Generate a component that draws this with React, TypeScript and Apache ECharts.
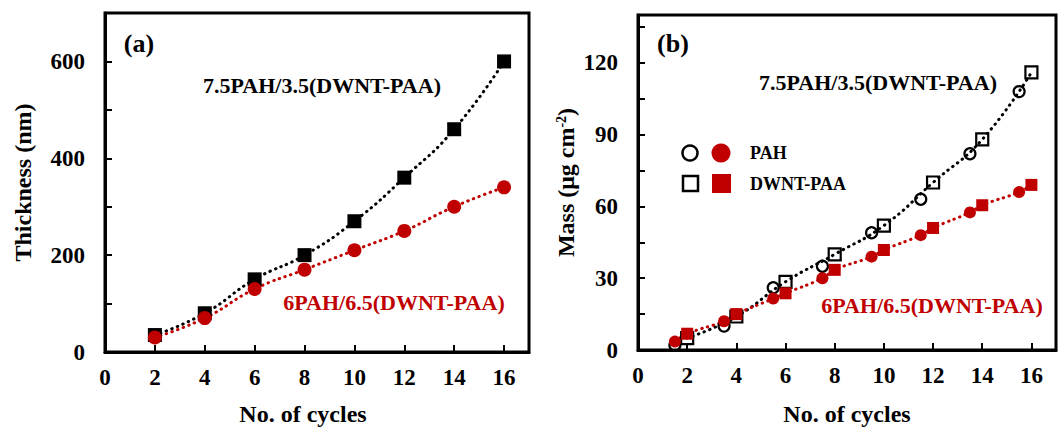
import React, { useEffect, useRef } from "react";
import * as echarts from "echarts";

// ---- Panel (a): thickness vs number of cycles ----
const cyclesA = [2, 4, 6, 8, 10, 12, 14, 16];
const thick75 = [35, 80, 150, 200, 270, 360, 460, 600];
const thick6 = [30, 70, 130, 170, 210, 250, 300, 340];
const thickTickLabels = [0, 200, 400, 600];

// ---- Panel (b): mass vs number of cycles ----
const cyclesPAH = [1.5, 3.5, 5.5, 7.5, 9.5, 11.5, 13.5, 15.5];
const cyclesPAA = [2, 4, 6, 8, 10, 12, 14, 16];
const mass75PAH = [2, 10, 26, 35, 49, 63, 82, 108];
const mass75PAA = [5, 14, 28.5, 40, 52, 70, 88, 116];
const mass6PAH = [3.5, 12, 21.5, 30, 39, 48, 57.5, 66];
const mass6PAA = [6.8, 15, 23.7, 33.5, 41.8, 51, 60.5, 69];
const massTickLabels = [0, 30, 60, 90, 120];
const xTickLabels = [0, 2, 4, 6, 8, 10, 12, 14, 16];

const label75 = "7.5PAH/3.5(DWNT-PAA)";
const label6 = "6PAH/6.5(DWNT-PAA)";
const legendNames = ["PAH", "DWNT-PAA"];

const RED = "#c00000";
const FONT = "Liberation Serif";

const pairs = (xs: number[], ys: number[]) => xs.map((x, i) => [x, ys[i]]);
const merged = (a: number[][], b: number[][]) =>
  [...a, ...b].sort((p, q) => p[0] - q[0]);

export default function App() {
  const ref = useRef<HTMLDivElement>(null);
  useEffect(() => {
    if (!ref.current) return;
    document.body.style.margin = "0";
    document.body.style.overflow = "hidden";
    const chart = echarts.init(ref.current, null, { renderer: "svg" });

    const tickLabelStyle = {
      fontFamily: FONT,
      fontWeight: "bold" as const,
      fontSize: 23,
      color: "#000",
    };
    const nameStyle = {
      fontFamily: FONT,
      fontWeight: "bold" as const,
      fontSize: 24,
      color: "#000",
    };
    const xAxisBase = (gridIndex: number, gap: number, shiftPad: number[]) => ({
      type: "value" as const,
      gridIndex,
      min: 0,
      max: 17,
      interval: 2,
      name: "No. of cycles",
      nameLocation: "middle" as const,
      nameGap: gap,
      nameTextStyle: { ...nameStyle, padding: shiftPad },
      axisLine: { show: true, lineStyle: { color: "#000", width: 3 } },
      axisTick: { show: true, inside: true, length: 7, lineStyle: { color: "#000", width: 2 } },
      axisLabel: {
        ...tickLabelStyle,
        margin: 14,
        formatter: (v: number) => (xTickLabels.includes(v) ? String(v) : ""),
      },
      splitLine: { show: false },
    });

    const dotted = (data: number[][], color: string, gi: number) => ({
      type: "line" as const,
      xAxisIndex: gi,
      yAxisIndex: gi,
      data,
      smooth: 0.5,
      symbol: "none",
      silent: true,
      z: 1,
      lineStyle: { color, width: 3, type: [0.5, 5.5] as number[], cap: "round" as const, opacity: 1 },
    });

    const txt = (text: string, x: number, y: number, size: number, fill: string) => ({
      type: "text" as const,
      x,
      y,
      style: {
        text,
        fill,
        fontFamily: FONT,
        fontWeight: "bold",
        fontSize: size,
        textAlign: "center",
        textVerticalAlign: "middle",
        align: "center",
        verticalAlign: "middle",
      },
    });

    chart.setOption({
      animation: false,
      backgroundColor: "#fff",
      grid: [
        { left: 105, top: 13, width: 424, height: 340, show: true, borderColor: "#000", borderWidth: 3, backgroundColor: "transparent" },
        { left: 638, top: 15, width: 424, height: 336, show: true, borderColor: "#000", borderWidth: 3, backgroundColor: "transparent" },
      ],
      xAxis: [xAxisBase(0, 50, [0, 28, 0, 0]), xAxisBase(1, 52, [0, 0, 0, 0])],
      yAxis: [
        {
          type: "value",
          gridIndex: 0,
          min: 0,
          max: 700,
          interval: 100,
          name: "Thickness (nm)",
          nameLocation: "middle",
          nameGap: 70,
          nameTextStyle: nameStyle,
          axisLine: { show: true, lineStyle: { color: "#000", width: 3 } },
          axisTick: { show: true, inside: true, length: 7, lineStyle: { color: "#000", width: 2 } },
          axisLabel: {
            ...tickLabelStyle,
            margin: 20,
            formatter: (v: number) => (thickTickLabels.includes(v) ? String(v) : ""),
          },
          splitLine: { show: false },
        },
        {
          type: "value",
          gridIndex: 1,
          min: 0,
          max: 140,
          interval: 15,
          name: "Mass (μg cm{sup|-2})",
          nameLocation: "middle",
          nameGap: 60,
          nameTextStyle: {
            ...nameStyle,
            rich: {
              sup: {
                fontFamily: FONT,
                fontWeight: "bold",
                fontSize: 14,
                verticalAlign: "top",
                padding: [0, 0, 10, 0],
              },
            },
          },
          axisLine: { show: true, lineStyle: { color: "#000", width: 3 } },
          axisTick: { show: true, inside: true, length: 7, lineStyle: { color: "#000", width: 2 } },
          axisLabel: {
            ...tickLabelStyle,
            margin: 20,
            formatter: (v: number) => (massTickLabels.includes(v) ? String(v) : ""),
          },
          splitLine: { show: false },
        },
      ],
      series: [
        // Panel (a)
        dotted(pairs(cyclesA, thick75), "#000", 0),
        dotted(pairs(cyclesA, thick6), RED, 0),
        {
          type: "scatter",
          name: label75,
          xAxisIndex: 0,
          yAxisIndex: 0,
          symbol: "rect",
          symbolSize: 14,
          clip: false,
          z: 3,
          itemStyle: { color: "#000", opacity: 1 },
          data: pairs(cyclesA, thick75),
        },
        {
          type: "scatter",
          name: label6,
          xAxisIndex: 0,
          yAxisIndex: 0,
          symbol: "circle",
          symbolSize: 14,
          clip: false,
          z: 4,
          itemStyle: { color: RED, opacity: 1 },
          data: pairs(cyclesA, thick6),
        },
        // Panel (b)
        dotted(pairs(cyclesPAA, mass75PAA), "#000", 1),
        dotted(merged(pairs(cyclesPAH, mass6PAH), pairs(cyclesPAA, mass6PAA)), RED, 1),
        {
          type: "scatter",
          name: "7.5 PAH",
          xAxisIndex: 1,
          yAxisIndex: 1,
          symbol: "circle",
          symbolSize: 11,
          clip: false,
          z: 3,
          itemStyle: { color: "rgba(0,0,0,0)", borderColor: "#000", borderWidth: 2.2, opacity: 1 },
          data: pairs(cyclesPAH, mass75PAH),
        },
        {
          type: "scatter",
          name: "7.5 DWNT-PAA",
          xAxisIndex: 1,
          yAxisIndex: 1,
          symbol: "rect",
          symbolSize: 12,
          clip: false,
          z: 3,
          itemStyle: { color: "rgba(0,0,0,0)", borderColor: "#000", borderWidth: 2.2, opacity: 1 },
          data: pairs(cyclesPAA, mass75PAA),
        },
        {
          type: "scatter",
          name: "6 PAH",
          xAxisIndex: 1,
          yAxisIndex: 1,
          symbol: "circle",
          symbolSize: 12,
          clip: false,
          z: 4,
          itemStyle: { color: RED, opacity: 1 },
          data: pairs(cyclesPAH, mass6PAH),
        },
        {
          type: "scatter",
          name: "6 DWNT-PAA",
          xAxisIndex: 1,
          yAxisIndex: 1,
          symbol: "rect",
          symbolSize: 12,
          clip: false,
          z: 4,
          itemStyle: { color: RED, opacity: 1 },
          data: pairs(cyclesPAA, mass6PAA),
        },
      ],
      graphic: [
        txt("(a)", 139, 43, 26, "#000"),
        txt(label75, 322, 85, 22, "#000"),
        txt(label6, 394, 302, 22, RED),
        txt("(b)", 673, 43, 26, "#000"),
        txt(label75, 878, 82, 22, "#000"),
        txt(label6, 932, 305, 22, RED),
        // custom legend
        { type: "circle", shape: { cx: 690, cy: 153, r: 7.5 }, style: { fill: "none", stroke: "#000", lineWidth: 2.5 } },
        { type: "circle", shape: { cx: 721, cy: 153, r: 9.5 }, style: { fill: RED } },
        { type: "rect", shape: { x: 683, y: 176, width: 15, height: 15 }, style: { fill: "none", stroke: "#000", lineWidth: 2.5 } },
        { type: "rect", shape: { x: 712, y: 174, width: 19, height: 19 }, style: { fill: RED } },
        {
          type: "text",
          x: 750,
          y: 153,
          style: { text: legendNames[0], fill: "#000", fontFamily: FONT, fontWeight: "bold", fontSize: 18, textAlign: "left", textVerticalAlign: "middle", align: "left", verticalAlign: "middle" },
        },
        {
          type: "text",
          x: 750,
          y: 184,
          style: { text: legendNames[1], fill: "#000", fontFamily: FONT, fontWeight: "bold", fontSize: 18, textAlign: "left", textVerticalAlign: "middle", align: "left", verticalAlign: "middle" },
        },
      ],
    });
    return () => chart.dispose();
  }, []);

  return (
    <div style={{ width: 1059, height: 431, overflow: "hidden", background: "#fff" }}>
      <div ref={ref} style={{ width: 1059, height: 431 }} />
    </div>
  );
}
